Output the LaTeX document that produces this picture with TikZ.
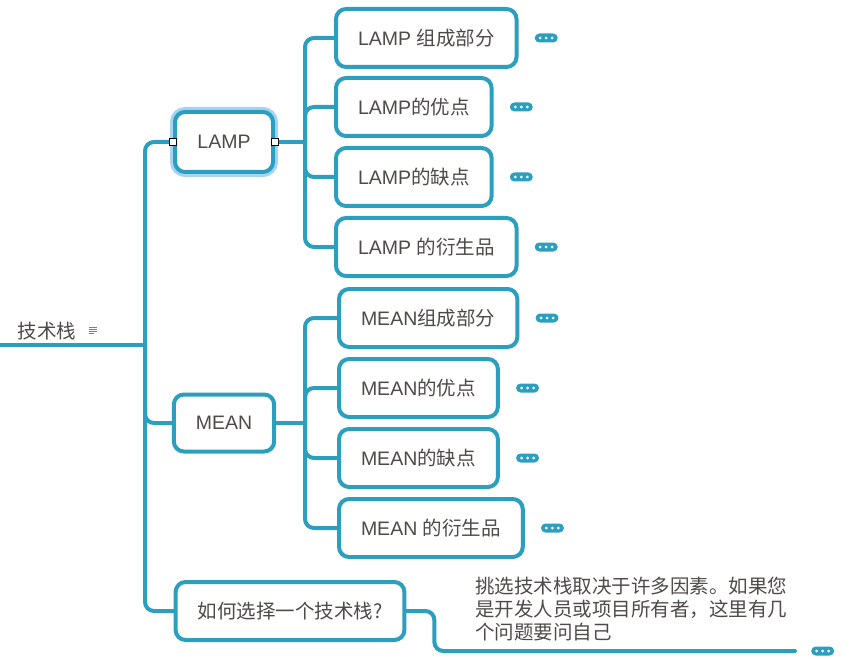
\documentclass[tikz,border=0pt]{standalone}
\usepackage{fontspec}
\setmainfont{Liberation Sans}
\newfontfamily\cjk{Noto Sans CJK SC}
\usetikzlibrary{positioning}
\definecolor{branch}{HTML}{2C9FBF}
\definecolor{halo}{HTML}{A9D3F5}
\definecolor{ink}{HTML}{4D4A47}

\begin{document}
\begin{tikzpicture}
  [x=1pt,y=-1pt,
   every node/.style={font=\fontsize{19.5}{23}\selectfont,text=ink},
   topic/.style={draw=branch,line width=4pt,fill=white,rounded corners=10pt,
     inner xsep=22pt,minimum height=58pt},
   glowing/.style={preaction={draw=halo,line width=10pt}},
   link/.style={draw=branch,line width=4pt,rounded corners=9pt,line cap=round},
   more/.style={fill=branch,rounded corners=4.5pt,minimum width=23pt,
     minimum height=9pt,inner sep=0pt,
     path picture={\foreach \i in {-6,0,6}
       \fill[white] ([xshift=\i pt]path picture bounding box.center) circle (1.5pt);}},
   handle/.style={draw=black,fill=white,line width=0.6pt,minimum size=7pt,inner sep=0pt},
   node distance=16pt]
  \useasboundingbox (0,0) rectangle (853,660);

  % root
  \node (root) at (47,331) {\cjk 技术栈};
  \coordinate (start) at (0,345);
  \coordinate (hub) at (145,345);
  \foreach \k/\w in {0/8,2/8,4/8,6/5}
    \draw[gray,line width=0.9pt] (89,327+\k) -- (89+\w,327+\k);

  % main topics
  \node[topic,glowing,minimum width=98pt,minimum height=60pt] (lamp) at (224,142) {LAMP};
  \node[topic,minimum width=98pt,minimum height=57pt] (mean) at (224,423) {MEAN};
  \node[topic] (how) at (290,611) {\cjk 如何选择一个技术栈?};

  % LAMP subtopics
  \node[topic,anchor=west] (lamp1) at (334,38) {LAMP {\cjk 组成部分}};
  \node[topic,anchor=west] (lamp2) at (334,107) {LAMP{\cjk 的优点}};
  \node[topic,anchor=west] (lamp3) at (334,177) {LAMP{\cjk 的缺点}};
  \node[topic,anchor=west] (lamp4) at (334,247) {LAMP {\cjk 的衍生品}};
  \node[more,right=of lamp1] (lampmore1) {};
  \node[more,right=of lamp2] (lampmore2) {};
  \node[more,right=of lamp3] (lampmore3) {};
  \node[more,right=of lamp4] (lampmore4) {};

  % MEAN subtopics
  \node[topic,anchor=west] (mean1) at (337,318) {MEAN{\cjk 组成部分}};
  \node[topic,anchor=west] (mean2) at (337,388) {MEAN{\cjk 的优点}};
  \node[topic,anchor=west] (mean3) at (337,458) {MEAN{\cjk 的缺点}};
  \node[topic,anchor=west] (mean4) at (337,528) {MEAN {\cjk 的衍生品}};
  \node[more,right=of mean1] (meanmore1) {};
  \node[more,right=of mean2] (meanmore2) {};
  \node[more,right=of mean3] (meanmore3) {};
  \node[more,right=of mean4] (meanmore4) {};

  % note on the question
  \node[anchor=north west,align=left,inner sep=0pt,font=\cjk\fontsize{19.5}{23}\selectfont] (note) at (475,577)
    {挑选技术栈取决于许多因素。如果您\\是开发人员或项目所有者，这里有几\\个问题要问自己};
  \coordinate (tail) at (795,651);
  \node[more,right=of tail] (howmore) {};

  % connectors
  \draw[link] (start) -- (hub);
  \draw[link] (hub) |- (lamp.west);
  \draw[link] (hub) |- (mean.west);
  \draw[link] (hub) |- (how.west);
  \coordinate (lampbus) at (305,142);
  \draw[link] (lamp.east) -- (lampbus);
  \draw[link] (lampbus) |- (lamp1.west);
  \draw[link] (lampbus) |- (lamp2.west);
  \draw[link] (lampbus) |- (lamp3.west);
  \draw[link] (lampbus) |- (lamp4.west);
  \coordinate (meanbus) at (305,423);
  \draw[link] (mean.east) -- (meanbus);
  \draw[link] (meanbus) |- (mean1.west);
  \draw[link] (meanbus) |- (mean2.west);
  \draw[link] (meanbus) |- (mean3.west);
  \draw[link] (meanbus) |- (mean4.west);
  \draw[link] (how.east) -- ++(28,0) |- (tail);

  \node[handle] (lampin) at (lamp.west) {};
  \node[handle] (lampout) at (lamp.east) {};
\end{tikzpicture}
\end{document}
